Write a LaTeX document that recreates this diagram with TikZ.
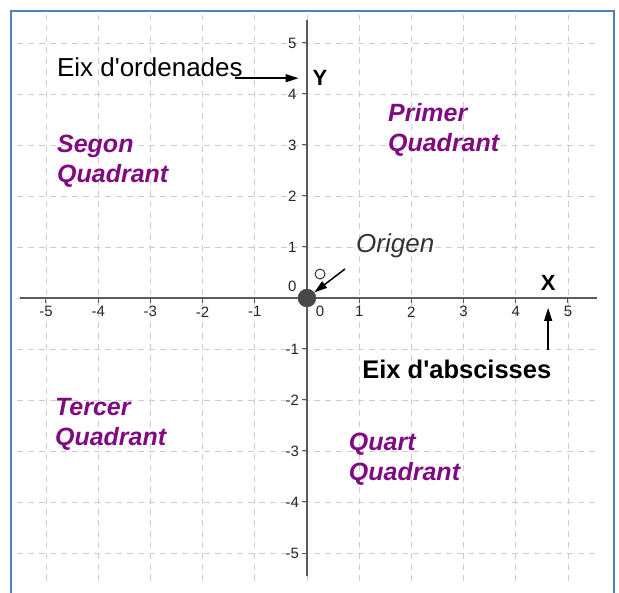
\documentclass[tikz,border=0pt]{standalone}
\usepackage{fontspec}
\setmainfont{Liberation Sans}[Ligatures=TeXOff]
\definecolor{frameBlue}{RGB}{79,129,189}
\definecolor{gridGray}{RGB}{205,205,205}
\definecolor{axisGray}{RGB}{90,90,90}
\definecolor{quadPurple}{RGB}{128,10,128}
\usetikzlibrary{arrows.meta,positioning}

\begin{document}
\begin{tikzpicture}[
  x=52.2pt, y=51pt,
  gridline/.style={draw=gridGray, dash pattern=on 6pt off 5pt, line width=0.8pt},
  axisline/.style={draw=axisGray, line width=2.2pt},
  ticklabel/.style={font=\fontsize{15}{15}\selectfont, text=black!85, inner sep=1pt},
  quad/.style={
    font=\fontsize{25}{30}\selectfont\bfseries\itshape, text=quadPurple,
    align=left, anchor=west, inner sep=0pt
  },
  lbl/.style={font=\fontsize{26}{26}\selectfont, inner sep=2pt},
  axlbl/.style={font=\fontsize{22}{22}\selectfont\bfseries, inner sep=2pt},
  arr/.style={-{Triangle[length=13pt,width=8pt]}, draw=black, line width=1.5pt}
]
  \useasboundingbox (-5.881,-5.784) rectangle (5.977,5.843);
  % marc
  \draw[frameBlue, line width=2pt] (-5.67,-5.784) -- (-5.67,5.63) -- (5.88,5.63) -- (5.88,-5.784);
  % quadricula
  \foreach \i in {-5,...,5} {
    \draw[gridline] (\i,-5.55) -- (\i,5.55);
    \draw[gridline] (-5.55,\i) -- (5.6,\i);
  }
  % eixos
  \draw[axisline] (-5.5,0) -- (5.56,0);
  \draw[axisline] (0,-5.45) -- (0,5.45);
  \foreach \i [count=\k] in {-5,-4,-3,-2,-1,1,2,3,4,5} {
    \draw[axisGray, line width=1pt] (\i,0) -- ++(0,-5pt);
    \draw[axisGray, line width=1pt] (0,\i) -- ++(-5pt,0);
    \node[ticklabel] (xt\k) at (\i,-0.27) {\i};
    \node[ticklabel] (yt\k) at (-0.28,\i) {\i};
  }
  \node[ticklabel] (xt0) at (0.25,-0.27) {0};
  \node[ticklabel] (yt0) at (-0.28,0.22) {0};

  % origen
  \node[circle, fill=axisGray!80!black, draw=black!70, minimum size=18pt, inner sep=0pt] (orig) at (0,0) {};
  \node[circle, draw=black!80, line width=1pt, minimum size=10pt, inner sep=0pt] (ring) at (0.25,0.47) {};
  \coordinate (origarrow) at (0.728,0.569);
  \draw[arr] (origarrow) -- (orig);
  \node[lbl, font=\fontsize{26}{26}\selectfont\itshape, text=black!80] (origen) at (1.69,1.02) {Origen};

  % eix d'ordenades
  \node[lbl] (ordenades) at (-3.01,4.53) {Eix d'ordenades};
  \node[axlbl] (ylab) at (0.25,4.31) {Y};
  \coordinate (ordarrow) at (-1.38,4.31);
  \draw[arr, shorten >=12pt] (ordarrow) -- (ylab);

  % eix d'abscisses
  \node[axlbl] (xlab) at (4.62,0.29) {X};
  \node[lbl, font=\fontsize{25.5}{25.5}\selectfont\bfseries] (absc) at (2.87,-1.39) {Eix d'abscisses};
  \coordinate (abscarrow) at (4.62,-1.02);
  \draw[arr, shorten >=15pt] (abscarrow) -- (xlab);

  % quadrants
  \node[quad] (q1) at (1.55,3.29) {Primer\\Quadrant};
  \node[quad] (q2) at (-4.79,2.68) {Segon\\Quadrant};
  \node[quad] (q3) at (-4.83,-2.47) {Tercer\\Quadrant};
  \node[quad] (q4) at (0.80,-3.17) {Quart\\Quadrant};
\end{tikzpicture}
\end{document}
